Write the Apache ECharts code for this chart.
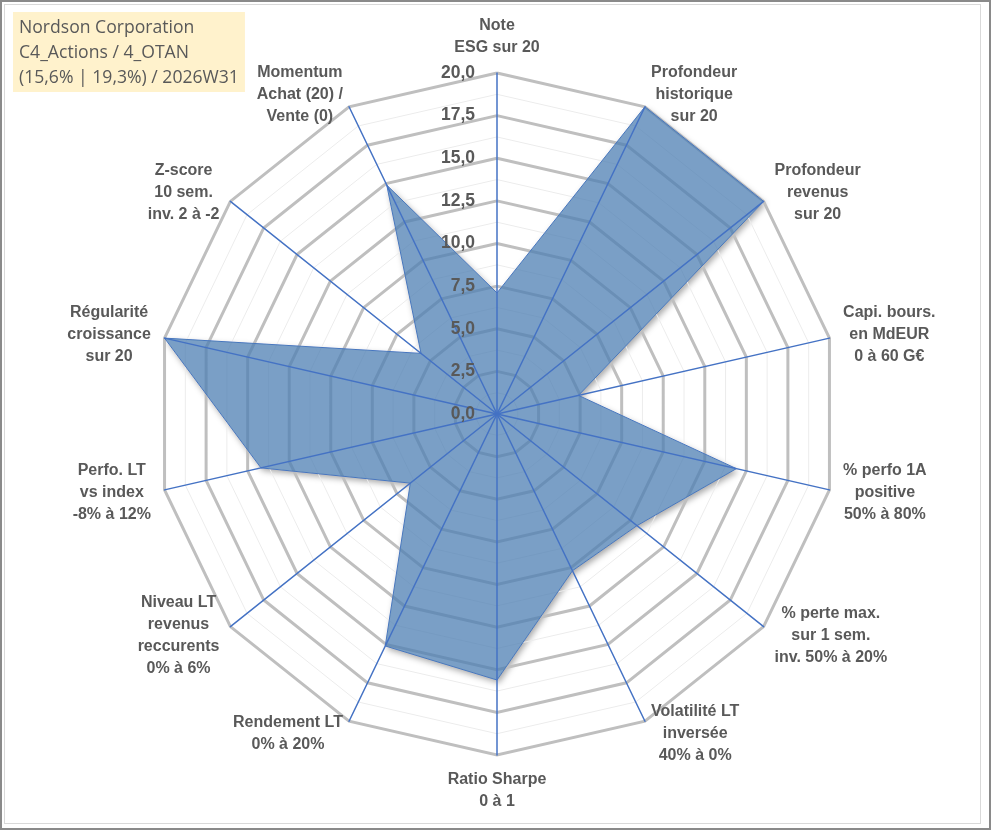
<!DOCTYPE html>
<html>
<head>
<meta charset="utf-8">
<script src="https://cdn.jsdelivr.net/npm/echarts@6/dist/echarts.min.js"></script>
<style>
  html, body { margin: 0; padding: 0; background: #fff; }
  #frame { position: absolute; left: 0; top: 0; width: 991px; height: 830px; box-sizing: border-box; border: 2px solid #8a8a8a; }
  #inner { position: absolute; left: 4px; top: 4px; width: 977px; height: 820px; box-sizing: border-box; border: 1px solid #d9d9d9; }
  #chart { position: absolute; left: 0; top: 0; width: 991px; height: 830px; }
</style>
</head>
<body>
<div id="frame"></div>
<div id="inner"></div>
<div id="chart"></div>
<script>
// Axis names, clockwise from the top (reference order)
const axisNames = [
  'Note\nESG sur 20',
  'Profondeur\nhistorique\nsur 20',
  'Profondeur\nrevenus\nsur 20',
  'Capi. bours.\nen MdEUR\n0 à 60 G€',
  '% perfo 1A\npositive\n50% à 80%',
  '% perte max.\nsur 1 sem.\ninv. 50% à 20%',
  'Volatilité LT\ninversée\n40% à 0%',
  'Ratio Sharpe\n0 à 1',
  'Rendement LT\n0% à 20%',
  'Niveau LT\nrevenus\nreccurents\n0% à 6%',
  'Perfo. LT\nvs index\n-8% à 12%',
  'Régularité\ncroissance\nsur 20',
  'Z-score\n10 sem.\ninv. 2 à -2',
  'Momentum\nAchat (20) /\nVente (0)'
];
// Scores (0-20), same clockwise order
const scores = [7.1, 20, 20, 4.9, 14.4, 10.5, 10.2, 15.6, 15.1, 6.5, 14.2, 20, 5.7, 14.9];
// Scale
const scaleMin = 0;
const scaleMax = 20;
const majorStep = 2.5;
const titleLines = ['Nordson Corporation', 'C4_Actions / 4_OTAN', '(15,6% | 19,3%) / 2026W31'];

// ECharts places indicators counter-clockwise: reorder so they read clockwise
const order = [0].concat(axisNames.map((_, i) => i).slice(1).reverse());
const majorSplits = Math.round((scaleMax - scaleMin) / majorStep);

function indicators(withLabel) {
  return order.map((i, k) => {
    const ind = { name: axisNames[i], min: scaleMin, max: scaleMax };
    if (withLabel) ind.axisLabel = { show: k === 0 };
    return ind;
  });
}

const center = [497, 414];
const radius = 341;
const textColor = '#595959';
const values = order.map(i => scores[i]);

const chart = echarts.init(document.getElementById('chart'), null, { renderer: 'canvas' });
chart.setOption({
  animation: false,
  title: {
    text: titleLines.join('\n'),
    left: 13, top: 12,
    backgroundColor: '#FFF2CC',
    padding: [3, 6, 2, 6],
    textStyle: { fontFamily: 'Open Sans', fontSize: 17.6, fontWeight: 'normal', color: textColor, lineHeight: 25 }
  },
  radar: [
    { // minor rings
      center: center, radius: radius, startAngle: 90, shape: 'polygon',
      splitNumber: majorSplits * 2,
      indicator: indicators(false),
      axisName: { show: false },
      axisLine: { show: false }, axisTick: { show: false }, axisLabel: { show: false },
      splitArea: { show: false },
      splitLine: { lineStyle: { color: '#ececec', width: 1 } },
      z: 2
    },
    { // major rings + names
      center: center, radius: radius, startAngle: 90, shape: 'polygon',
      splitNumber: majorSplits,
      indicator: indicators(false),
      nameGap: 14,
      axisName: {
        color: textColor,
        formatter: function (name) {
          return name.split('\n').map(l => '{c|' + l + '}').join('\n');
        },
        rich: {
          c: { align: 'center', fontFamily: 'Liberation Sans', fontSize: 16, fontWeight: 'bold', color: textColor, lineHeight: 22 }
        }
      },
      axisLine: { show: false }, axisTick: { show: false }, axisLabel: { show: false },
      splitArea: { show: false },
      splitLine: { lineStyle: { color: '#bfbfbf', width: 3 } },
      z: 3
    },
    { // spokes + tick labels on top
      center: center, radius: radius, startAngle: 90, shape: 'polygon',
      splitNumber: majorSplits,
      indicator: indicators(true),
      axisName: { show: false },
      axisLine: { show: true, lineStyle: { color: '#4472C4', width: 1.5 } },
      axisTick: { show: false },
      axisLabel: {
        show: false, margin: 22,
        fontFamily: 'Liberation Sans', fontSize: 17.5, fontWeight: 'bold', color: textColor,
        formatter: function (v) { return v.toFixed(1).replace('.', ','); }
      },
      splitArea: { show: false }, splitLine: { show: false },
      z: 6
    }
  ],
  series: [
    { // shadow under the area (drawn below the rings)
      type: 'radar',
      radarIndex: 1,
      symbol: 'none',
      z: 1,
      silent: true,
      lineStyle: { width: 0, opacity: 0 },
      areaStyle: { color: '#ffffff', opacity: 1, shadowBlur: 6, shadowOffsetX: 2, shadowOffsetY: 3, shadowColor: 'rgba(0,0,0,0.35)' },
      data: [{ value: values, name: 'shadow' }]
    },
    {
      type: 'radar',
      radarIndex: 1,
      symbol: 'none',
      z: 4,
      lineStyle: { color: '#4472C4', width: 1 },
      areaStyle: { color: '#4E7FB3', opacity: 0.75 },
      data: [{ value: values, name: 'Nordson Corporation' }]
    }
  ]
});
</script>
</body>
</html>
